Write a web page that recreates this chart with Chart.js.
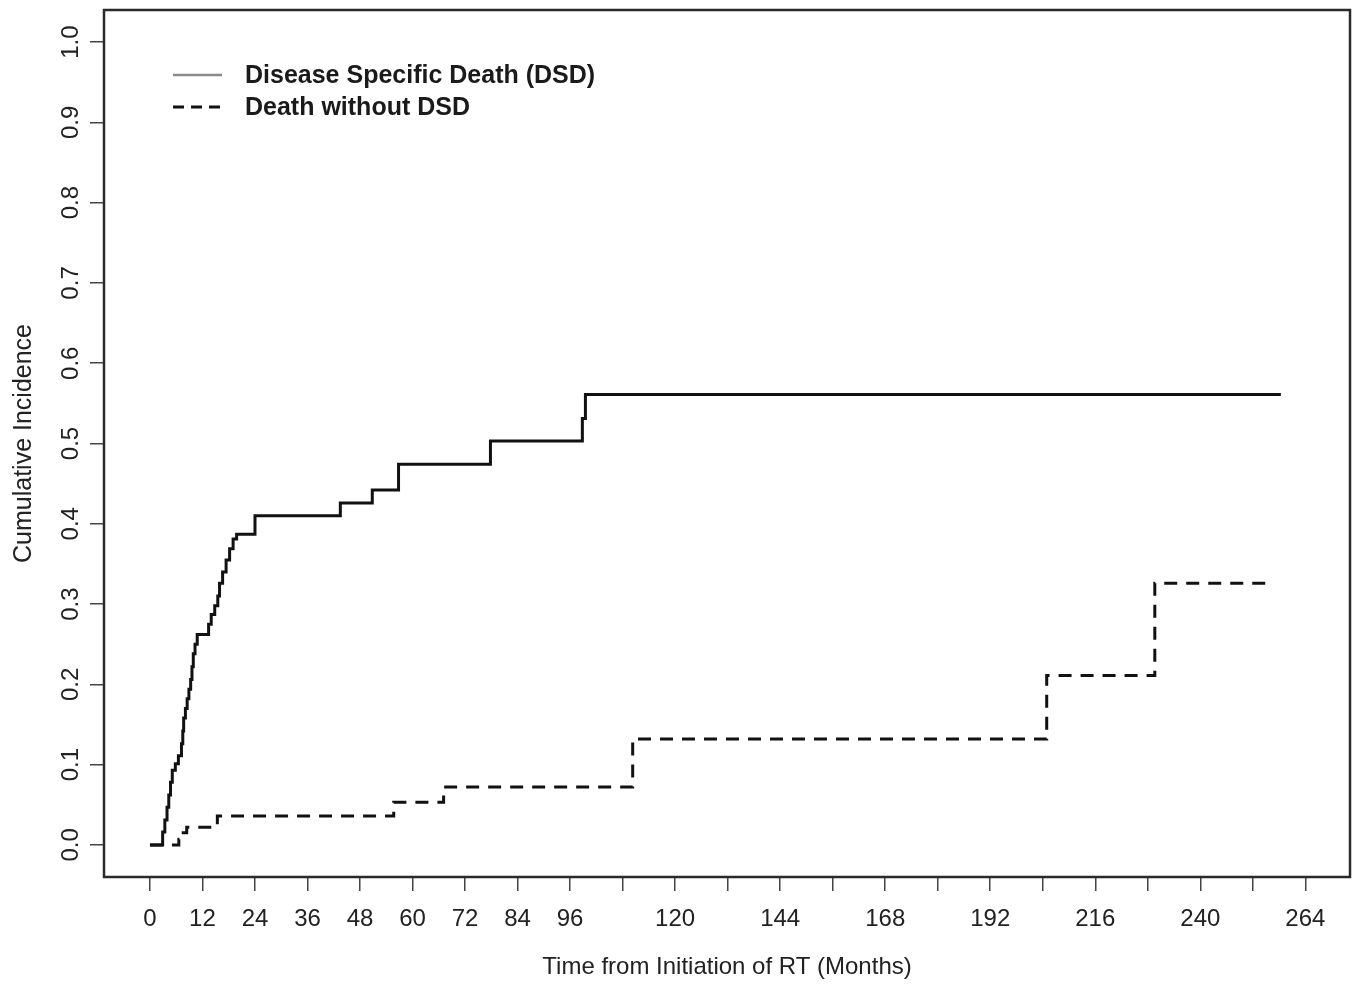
<!DOCTYPE html>
<html>
<head>
<meta charset="utf-8">
<script src="https://cdn.jsdelivr.net/npm/chart.js@4.4.1/dist/chart.umd.min.js"></script>
<style>
  html, body { margin: 0; padding: 0; background: #ffffff; }
  #wrap { width: 1360px; height: 986px; }
</style>
</head>
<body>
<div id="wrap"><canvas id="c" width="1360" height="986"></canvas></div>
<script>
// ---- Data ----
const dsdMonths = [0, 2.9, 3.4, 3.9, 4.3, 4.7, 5.1, 5.8, 6.5, 7.2, 7.5, 7.7, 8.1, 8.5, 8.9, 9.3, 9.6, 9.9, 10.3, 10.8, 13.4, 14.0, 14.8, 15.5, 15.9, 16.6, 17.4, 18.2, 19.0, 19.8, 24.0, 43.5, 50.8, 56.8, 77.8, 98.8, 99.5, 258.4];
const dsdIncidence = [0, 0.016, 0.031, 0.047, 0.062, 0.078, 0.093, 0.101, 0.111, 0.126, 0.142, 0.158, 0.170, 0.182, 0.194, 0.206, 0.222, 0.238, 0.250, 0.262, 0.275, 0.287, 0.298, 0.310, 0.326, 0.340, 0.355, 0.369, 0.381, 0.387, 0.410, 0.426, 0.442, 0.474, 0.503, 0.531, 0.561, 0.561];

const otherMonths = [0, 6.6, 7.6, 8.4, 15.4, 55.7, 67.1, 110.3, 204.9, 229.6, 256.2];
const otherIncidence = [0, 0.007, 0.015, 0.022, 0.036, 0.053, 0.072, 0.132, 0.211, 0.326, 0.326];

const seriesLabels = ["Disease Specific Death (DSD)", "Death without DSD"];
const xTickValues = [0, 12, 24, 36, 48, 60, 72, 84, 96, 108, 120, 132, 144, 156, 168, 180, 192, 204, 216, 228, 240, 252, 264];
const xTickLabels = [0, 12, 24, 36, 48, 60, 72, 84, 96, 120, 144, 168, 192, 216, 240, 264];
const yTickValues = [0, 0.1, 0.2, 0.3, 0.4, 0.5, 0.6, 0.7, 0.8, 0.9, 1.0];
const xTitle = "Time from Initiation of RT (Months)";
const yTitle = "Cumulative Incidence";

const FONT = "'Liberation Sans', Arial, Helvetica, sans-serif";
const INK = "#111111";

const toPoints = (xs, ys) => xs.map((x, i) => ({ x: x, y: ys[i] }));

// box + rotated y labels + inset legend
const decor = {
  id: 'decor',
  afterDraw(chart) {
    const ctx = chart.ctx;
    const a = chart.chartArea;
    ctx.save();
    // plot frame
    ctx.strokeStyle = '#2a2a2a';
    ctx.lineWidth = 2.5;
    ctx.setLineDash([]);
    ctx.strokeRect(a.left, a.top, a.right - a.left, a.bottom - a.top);

    // rotated y tick labels (R style)
    const ys = chart.scales.y;
    ctx.fillStyle = '#222';
    ctx.font = '24px ' + FONT;
    ctx.textAlign = 'center';
    ctx.textBaseline = 'middle';
    yTickValues.forEach(v => {
      const py = ys.getPixelForValue(v);
      ctx.save();
      ctx.translate(71, py);
      ctx.rotate(-Math.PI / 2);
      ctx.fillText(v.toFixed(1), 0, 0);
      ctx.restore();
    });

    // legend inside plot
    const ds = chart.data.datasets;
    const lx0 = a.left + 69, lx1 = a.left + 118, tx = a.left + 141;
    const rows = [75, 107];
    ctx.font = 'bold 25px ' + FONT;
    ctx.textAlign = 'left';
    ctx.textBaseline = 'middle';
    ds.forEach((d, i) => {
      const yy = rows[i];
      ctx.beginPath();
      ctx.lineWidth = i === 0 ? 2.5 : 3;
      ctx.strokeStyle = i === 0 ? '#8a8a8a' : INK;
      ctx.setLineDash(i === 0 ? [] : [11, 7]);
      ctx.moveTo(lx0, yy);
      ctx.lineTo(lx1, yy);
      ctx.stroke();
      ctx.setLineDash([]);
      ctx.fillStyle = '#1a1a1a';
      ctx.fillText(d.label, tx, yy + 1);
    });
    ctx.restore();
  }
};

new Chart(document.getElementById('c'), {
  type: 'line',
  data: {
    datasets: [
      {
        label: seriesLabels[0],
        data: toPoints(dsdMonths, dsdIncidence),
        stepped: 'before',
        borderColor: INK,
        borderWidth: 3,
        pointRadius: 0,
        fill: false
      },
      {
        label: seriesLabels[1],
        data: toPoints(otherMonths, otherIncidence),
        stepped: 'before',
        borderColor: INK,
        borderWidth: 3,
        borderDash: [13, 9],
        pointRadius: 0,
        fill: false
      }
    ]
  },
  options: {
    responsive: false,
    devicePixelRatio: 1,
    animation: false,
    events: [],
    layout: { padding: { top: 10, right: 10, left: 0, bottom: 0 } },
    plugins: {
      legend: { display: false },
      tooltip: { enabled: false }
    },
    scales: {
      x: {
        type: 'linear',
        min: -10.5,
        max: 274.2,
        afterBuildTicks: (s) => { s.ticks = xTickValues.map(v => ({ value: v })); },
        afterFit: (s) => { s.height = 109; },
        border: { display: false },
        grid: {
          display: true,
          drawOnChartArea: false,
          drawTicks: true,
          tickLength: 14,
          tickColor: '#444',
          lineWidth: 1.5
        },
        ticks: {
          autoSkip: false,
          maxRotation: 0,
          minRotation: 0,
          padding: 14,
          color: '#222',
          font: { family: FONT, size: 24 },
          callback: (v) => xTickLabels.includes(v) ? String(v) : ''
        },
        title: {
          display: true,
          text: xTitle,
          color: '#222',
          font: { family: FONT, size: 24 },
          padding: { top: 0, bottom: 4 }
        }
      },
      y: {
        type: 'linear',
        min: -0.04,
        max: 1.04,
        afterBuildTicks: (s) => { s.ticks = yTickValues.map(v => ({ value: v })); },
        afterFit: (s) => { s.width = 104; },
        border: { display: false },
        grid: {
          display: true,
          drawOnChartArea: false,
          drawTicks: true,
          tickLength: 14,
          tickColor: '#444',
          lineWidth: 1.5
        },
        ticks: {
          color: '#222',
          font: { family: FONT, size: 2 },
          callback: () => ''
        },
        title: {
          display: true,
          text: yTitle,
          color: '#222',
          font: { family: FONT, size: 25 },
          padding: { top: 9, bottom: 0 }
        }
      }
    }
  },
  plugins: [decor]
});
</script>
</body>
</html>
